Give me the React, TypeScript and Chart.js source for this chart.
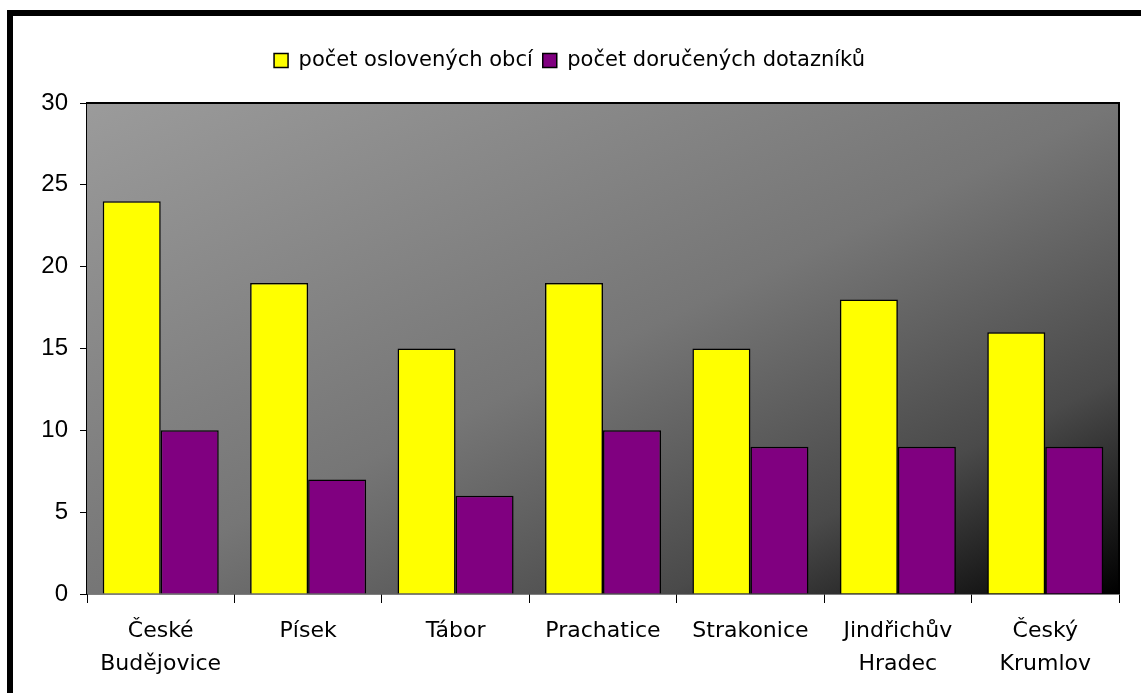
import React, { useEffect, useRef } from "react";
import { Chart, registerables } from "chart.js";

Chart.register(...registerables);

const categories: (string | string[])[] = [
  ["České", "Budějovice"],
  "Písek",
  "Tábor",
  "Prachatice",
  "Strakonice",
  ["Jindřichův", "Hradec"],
  ["Český", "Krumlov"],
];
const seriesNames = ["počet oslovených obcí", "počet doručených dotazníků"];
const oslovenych = [24, 19, 15, 19, 15, 18, 16];
const dorucenych = [10, 7, 6, 10, 9, 9, 9];
const yMin = 0;
const yMax = 30;
const yStep = 5;

const W = 1141;
const H = 693;

const legendSpacer = {
  id: "legendSpacer",
  beforeInit(chart: any) {
    const legend = chart.legend;
    if (!legend) return;
    const orig = legend.fit;
    legend.fit = function () {
      orig.call(this);
      this.height += 22;
    };
  },
};

const background = {
  id: "background",
  beforeDatasetsDraw(chart: any) {
    const { ctx, chartArea } = chart;
    const { left, top, right, bottom } = chartArea;
    const w = right - left;
    const h = bottom - top;
    const cx = (left + right) / 2;
    const cy = (top + bottom) / 2;
    const k = (w * h) / (w * w + h * h);
    const g = ctx.createLinearGradient(cx - h * k, cy - w * k, cx + h * k, cy + w * k);
    g.addColorStop(0, "#9b9b9b");
    g.addColorStop(0.5, "#767676");
    g.addColorStop(0.78, "#4a4a4a");
    g.addColorStop(1, "#000000");
    ctx.save();
    ctx.fillStyle = g;
    ctx.fillRect(left, top, w, h);
    ctx.restore();
  },
  afterDatasetsDraw(chart: any) {
    const { ctx, chartArea } = chart;
    const { left, top, right, bottom } = chartArea;
    ctx.save();
    ctx.strokeStyle = "#000";
    ctx.lineWidth = 2;
    ctx.beginPath();
    ctx.moveTo(left, top);
    ctx.lineTo(right, top);
    ctx.lineTo(right, bottom);
    ctx.stroke();
    ctx.restore();
  },
  afterDraw(chart: any) {
    const { ctx } = chart;
    ctx.save();
    ctx.fillStyle = "#000";
    ctx.fillRect(7, 10, 6, H - 10);
    ctx.fillRect(7, 10, W - 7, 6);
    ctx.restore();
  },
};

export default function App() {
  const ref = useRef<HTMLCanvasElement>(null);

  useEffect(() => {
    if (!ref.current) return;
    const chart = new Chart(ref.current, {
      type: "bar",
      data: {
        labels: categories,
        datasets: [
          {
            label: seriesNames[0],
            data: oslovenych,
            backgroundColor: "#ffff00",
            borderColor: "#000000",
            borderWidth: 1.5,
          },
          {
            label: seriesNames[1],
            data: dorucenych,
            backgroundColor: "#800080",
            borderColor: "#000000",
            borderWidth: 1.5,
          },
        ],
      },
      options: {
        responsive: false,
        animation: false,
        devicePixelRatio: 1,
        layout: { padding: { top: 40, left: 20, right: 22, bottom: 0 } },
        datasets: {
          bar: { categoryPercentage: 0.787, barPercentage: 1 },
        },
        plugins: {
          tooltip: { enabled: false },
          legend: {
            position: "top",
            labels: {
              color: "#000",
              boxWidth: 14,
              boxHeight: 14,
              padding: 10,
              font: { family: "'DejaVu Sans'", size: 21 },
            },
          },
        },
        scales: {
          x: {
            grid: {
              display: true,
              offset: true,
              drawOnChartArea: false,
              drawTicks: true,
              tickLength: 9,
              color: "#000",
            },
            border: { display: true, color: "#000", width: 1.5 },
            ticks: {
              color: "#000",
              padding: 12,
              maxRotation: 0,
              autoSkip: false,
              font: { family: "'DejaVu Sans'", size: 22, lineHeight: 1.5 },
            },
            afterFit(scale: any) {
              scale.height = 99;
            },
          },
          y: {
            min: yMin,
            max: yMax,
            grid: {
              display: true,
              drawOnChartArea: false,
              drawTicks: true,
              tickLength: 7,
              color: "#000",
            },
            border: { display: true, color: "#000", width: 1.5 },
            ticks: {
              stepSize: yStep,
              color: "#000",
              padding: 12,
              font: { family: "'Liberation Sans'", size: 24 },
            },
            afterFit(scale: any) {
              scale.width = 67;
            },
          },
        },
      },
      plugins: [legendSpacer, background],
    } as any);
    return () => chart.destroy();
  }, []);

  return (
    <div style={{ position: "absolute", left: 0, top: 0, width: W, height: H, background: "#fff" }}>
      <canvas ref={ref} width={W} height={H} style={{ display: "block" }} />
    </div>
  );
}
